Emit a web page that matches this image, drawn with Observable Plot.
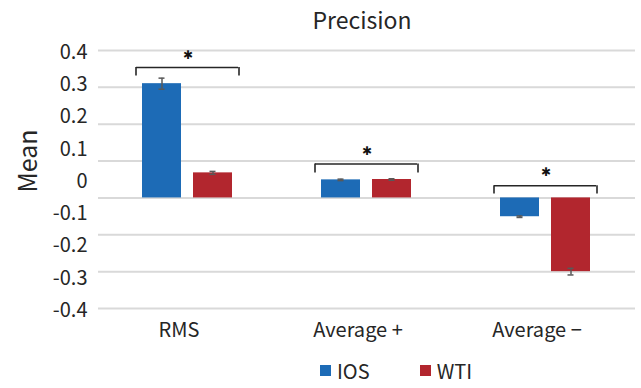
<!DOCTYPE html>
<html><head><meta charset="utf-8">
<script src="https://cdn.jsdelivr.net/npm/d3@7"></script>
<script src="https://cdn.jsdelivr.net/npm/@observablehq/plot@0.6"></script>
<style>
body{margin:0;background:#fff;font-family:"Noto Sans CJK JP","Noto Sans",sans-serif;color:#262626;}
#title{height:36px;line-height:38px;font-size:23px;padding-left:83px;text-align:center;width:558px;}
#legend{height:36px;display:flex;align-items:center;margin-left:320px;font-size:20px;}
#legend .sw{width:11px;height:11px;display:inline-block;}
</style></head><body>
<div id="title">Precision</div>
<div id="chart"></div>
<div id="legend"></div>
<script>
const categories = ["RMS", "Average +", "Average −"];
const series = ["IOS", "WTI"];
const iosMean = [0.310, 0.049, -0.051];
const iosErr = [0.015, 0.002, 0.002];
const wtiMean = [0.068, 0.050, -0.200];
const wtiErr = [0.004, 0.002, 0.009];
const bracketY = [0.354, 0.092, 0.033];
const bracketFoot = [0.331, 0.0675, 0.0106];
const starY = [0.388, 0.128, 0.071];
const yTickLabels = ["0.4", "0.3", "0.2", "0.1", "0", "-0.1", "-0.2", "-0.3", "-0.4"];
const gridValues = [0.4, 0.3, 0.2, 0.1, 0, -0.1, -0.2, -0.3];
const colors = ["#1d6bb6", "#b2262e"];

const bars = [];
categories.forEach((c, i) => {
  bars.push({cat: c, series: "IOS", value: iosMean[i], err: iosErr[i]});
  bars.push({cat: c, series: "WTI", value: wtiMean[i], err: wtiErr[i]});
});
const brackets = categories.map((c, i) => ({cat: c, y: bracketY[i], foot: bracketFoot[i], star: starY[i], a: "IOS", b: "WTI"}));

const yDomain = [-0.3, 0.4];
const tickPos = yTickLabels.map((_, i) => yDomain[1] - i * (yDomain[1] - yDomain[0]) / (yTickLabels.length - 1));

const chart = Plot.plot({
  width: 641,
  height: 316,
  marginLeft: 97,
  marginRight: 5,
  marginTop: 14,
  marginBottom: 44,
  style: {fontSize: "20px", fontFamily: "'Noto Sans CJK JP', 'Noto Sans', sans-serif", color: "#262626", background: "#fff"},
  fx: {domain: categories, padding: 0, label: null, axis: null},
  x: {domain: series, paddingInner: 0.23, paddingOuter: 0.846, axis: null},
  y: {domain: yDomain, axis: null},
  color: {domain: series, range: colors},
  marks: [
    Plot.gridY(gridValues, {stroke: "#d9d9d9", strokeOpacity: 1, strokeWidth: 2}),
    Plot.axisY(tickPos, {tickSize: 0, tickPadding: 11, tickFormat: (d, i) => yTickLabels[i], dy: 2, label: null, fontSize: 20}),
    Plot.axisFx({anchor: "bottom", tickSize: 0, tickPadding: 14, label: null, dx: -9, fontSize: 20}),
    Plot.barY(bars, {fx: "cat", x: "series", y: "value", fill: "series"}),
    Plot.ruleX(bars, {fx: "cat", x: "series", y1: d => d.value - d.err, y2: d => d.value + d.err, stroke: "#595959", strokeWidth: 1.5}),
    Plot.tickY(bars, {fx: "cat", x: "series", y: d => d.value - d.err, stroke: "#595959", strokeWidth: 1.5, insetLeft: 16.5, insetRight: 16.5}),
    Plot.tickY(bars, {fx: "cat", x: "series", y: d => d.value + d.err, stroke: "#595959", strokeWidth: 1.5, insetLeft: 16.5, insetRight: 16.5}),
    Plot.ruleY(brackets, {fx: "cat", y: "y", x1: "a", x2: "b", insetLeft: -6, insetRight: -6, stroke: "#262626", strokeWidth: 1.6}),
    Plot.ruleX(brackets, {fx: "cat", x: "a", y1: "foot", y2: "y", dx: -26, stroke: "#262626", strokeWidth: 1.6}),
    Plot.ruleX(brackets, {fx: "cat", x: "b", y1: "foot", y2: "y", dx: 26, stroke: "#262626", strokeWidth: 1.6}),
    Plot.text(brackets, {fx: "cat", y: "star", text: () => "✱", fontSize: 12, fontFamily: "DejaVu Sans", fill: "#111"}),
    Plot.text(["Mean"], {fx: () => categories[0], frameAnchor: "left", rotate: -90, text: d => d, dx: -70, dy: 13, fontSize: 25})
  ]
});
document.getElementById("chart").appendChild(chart);

const legend = document.getElementById("legend");
series.forEach((s, i) => {
  const sw = document.createElement("span");
  sw.className = "sw";
  sw.style.background = colors[i];
  sw.style.marginRight = "6px";
  legend.appendChild(sw);
  const t = document.createElement("span");
  t.textContent = s;
  if (i === 0) t.style.marginRight = "50px";
  legend.appendChild(t);
});
</script>
</body></html>
